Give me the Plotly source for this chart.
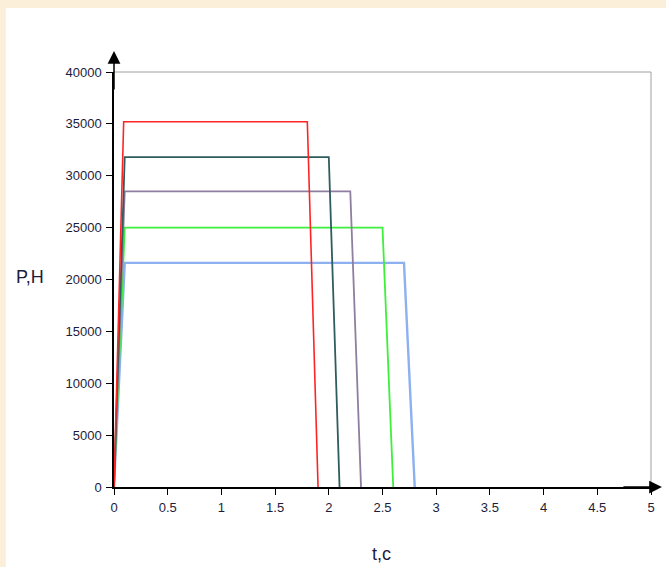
import plotly.graph_objects as go

# Data (t in seconds, P in N)
series_names = ["P1", "P2", "P3", "P4", "P5"]
t_red = [0, 0.09, 1.8, 1.9]
p_red = [0, 35200, 35200, 0]
t_teal = [0, 0.1, 2.0, 2.1]
p_teal = [0, 31800, 31800, 0]
t_purple = [0, 0.1, 2.2, 2.3]
p_purple = [0, 28500, 28500, 0]
t_green = [0, 0.1, 2.5, 2.6]
p_green = [0, 25000, 25000, 0]
t_blue = [0, 0.1, 2.7, 2.8]
p_blue = [0, 21600, 21600, 0]

x_ticks = [0, 0.5, 1, 1.5, 2, 2.5, 3, 3.5, 4, 4.5, 5]
x_ticktext = ["0", "0.5", "1", "1.5", "2", "2.5", "3", "3.5", "4", "4.5", "5"]
y_ticks = [0, 5000, 10000, 15000, 20000, 25000, 30000, 35000, 40000]
y_ticktext = ["0", "5000", "10000", "15000", "20000", "25000", "30000", "35000", "40000"]

colors = ["#ff2424", "#2f5c5e", "#8e7ea0", "#3cf03c", "#8cb0f0"]
widths = [1.6, 1.8, 1.8, 1.8, 2.4]

fig = go.Figure()
data = [(t_red, p_red), (t_teal, p_teal), (t_purple, p_purple), (t_green, p_green), (t_blue, p_blue)]
for i in [4, 3, 2, 1, 0]:
    tx, py = data[i]
    fig.add_trace(go.Scatter(x=tx, y=py, mode="lines", name=series_names[i],
                             line=dict(color=colors[i], width=widths[i]),
                             showlegend=False, hoverinfo="skip"))

L, R, T, B = 114, 11, 72, 80
W, H = 666, 567
pw, ph = W - L - R, H - T - B

def px_x(px):
    return (px - L) / pw

def px_y(py):
    return (H - B - py) / ph

tick_font = dict(family="Liberation Sans, Arial, sans-serif", size=13, color="#1c1c3c")
title_font = dict(family="Liberation Sans, Arial, sans-serif", size=18, color="#1c1c3c")

fig.update_layout(
    width=W, height=H,
    margin=dict(l=L, r=R, t=T, b=B, pad=0),
    paper_bgcolor="#fbefd9",
    plot_bgcolor="white",
    xaxis=dict(range=[0, 5], tickvals=x_ticks, ticktext=x_ticktext,
               showgrid=False, zeroline=False, showline=True, linecolor="black", linewidth=1.5,
               ticks="outside", ticklen=6, tickwidth=1, tickcolor="black",
               tickfont=tick_font, ticklabelstandoff=2),
    yaxis=dict(range=[0, 40000], tickvals=y_ticks, ticktext=y_ticktext,
               showgrid=False, zeroline=False, showline=True, linecolor="black", linewidth=1.5,
               ticks="outside", ticklen=6, tickwidth=1, tickcolor="black",
               tickfont=tick_font, ticklabelstandoff=2),
    shapes=[
        dict(type="rect", xref="paper", yref="paper", layer="below",
             x0=px_x(5), x1=px_x(670), y0=px_y(570), y1=px_y(8),
             fillcolor="white", line=dict(width=0)),
        dict(type="line", xref="paper", yref="paper", x0=0, x1=1, y0=1, y1=1,
             line=dict(color="#a0a0a0", width=1)),
        dict(type="line", xref="paper", yref="paper", x0=1, x1=1, y0=0, y1=1,
             line=dict(color="#a0a0a0", width=1)),
    ],
    annotations=[
        dict(text="", xref="paper", yref="paper", x=0, y=px_y(51),
             ax=0, ay=40, showarrow=True, arrowhead=2, arrowsize=1.7, arrowwidth=1.5,
             arrowcolor="black"),
        dict(text="", xref="paper", yref="paper", x=px_x(666), y=0,
             ax=-40, ay=0, showarrow=True, arrowhead=2, arrowsize=1.7, arrowwidth=1.5,
             arrowcolor="black"),
        dict(text="P,H", xref="paper", yref="paper", x=px_x(29.5), y=px_y(277),
             showarrow=False, xanchor="center", yanchor="middle", font=title_font),
        dict(text="t,c", xref="paper", yref="paper", x=px_x(383.5), y=px_y(554),
             showarrow=False, xanchor="center", yanchor="middle", font=title_font),
    ],
)

fig.write_html("out.html")
